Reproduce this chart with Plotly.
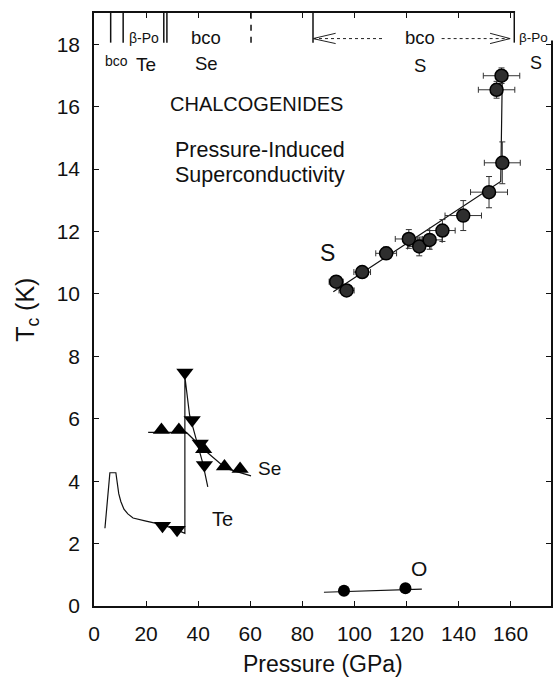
import plotly.graph_objects as go

# ---- Sulfur (S): Tc vs pressure with error bars ----
s_pressure = [93.0, 97.0, 103.0, 112.2, 120.9, 124.9, 128.9, 133.8, 141.8, 151.7, 156.8, 154.6, 156.5]
s_tc = [10.39, 10.11, 10.70, 11.30, 11.76, 11.52, 11.73, 12.03, 12.51, 13.26, 14.20, 16.54, 16.99]
s_perr = [2.7, 2.9, 3.2, 4.0, 5.2, 4.5, 4.8, 4.9, 7.0, 7.1, 6.9, 7.0, 7.0]
s_tcerr = [0.15, 0.15, 0.15, 0.2, 0.3, 0.3, 0.3, 0.35, 0.48, 0.5, 0.67, 0.27, 0.25]
s_guide_p = [91.9, 156.2, 156.8]
s_guide_tc = [10.07, 13.6, 17.0]

# ---- Tellurium (Te) ----
te_pressure = [26.3, 31.9, 34.9, 37.7, 40.8, 42.4]
te_tc = [2.57, 2.44, 7.48, 5.96, 5.21, 4.52]
te_guide_p = [4.2, 6.1, 8.4, 8.9, 9.5, 10.3, 11.5, 13.0, 15.0, 20.0, 26.5, 32.9, 34.9, 34.9, 36.7, 39.3, 41.8, 43.7]
te_guide_tc = [2.49, 4.27, 4.27, 3.9, 3.6, 3.35, 3.1, 2.95, 2.82, 2.72, 2.6, 2.4, 2.33, 7.35, 6.12, 5.32, 4.57, 3.82]

# ---- Selenium (Se) ----
se_pressure = [25.9, 32.6, 42.1, 50.1, 56.1]
se_tc = [5.64, 5.64, 5.02, 4.47, 4.39]
se_guide_p = [20.8, 35.5, 42.4, 50.7, 60.3]
se_guide_tc = [5.56, 5.56, 5.0, 4.41, 4.17]

# ---- Oxygen (O) ----
o_pressure = [96.0, 119.6]
o_tc = [0.49, 0.57]
o_guide_p = [88.3, 125.9]
o_guide_tc = [0.44, 0.54]

# ---- Axes ----
x_ticks = [0, 20, 40, 60, 80, 100, 120, 140, 160]
y_ticks = [0, 2, 4, 6, 8, 10, 12, 14, 16, 18]
x_range = [0, 175.5]
y_range = [0, 19]

# ---- Structural phase boundaries along the top ----
boundary_solid = [6.4, 11.2, 26.8, 28.0, 84.1, 161.4]
boundary_dashed = [60.3]
boundary_bottom = 18.05
phase_labels = [
    ("bco", 8.8, 17.47, 14),
    ("β-Po", 19.1, 18.2, 14),
    ("Te", 19.8, 17.34, 19),
    ("bco", 43.1, 18.2, 18.5),
    ("Se", 43.1, 17.37, 18.5),
    ("bco", 125.3, 18.2, 18.5),
    ("S", 125.3, 17.33, 18.5),
    ("β-Po", 168.6, 18.22, 13.5),
    ("S", 169.8, 17.4, 18),
]

FONT = "Liberation Sans, Arial, Helvetica, sans-serif"
INK = "#111111"

fig = go.Figure()

line_style = dict(color=INK, width=1.2)

fig.add_trace(go.Scatter(x=te_guide_p, y=te_guide_tc, mode="lines", line=line_style, showlegend=False))
fig.add_trace(go.Scatter(x=se_guide_p, y=se_guide_tc, mode="lines", line=line_style, showlegend=False))
fig.add_trace(go.Scatter(x=s_guide_p, y=s_guide_tc, mode="lines", line=line_style, showlegend=False))
fig.add_trace(go.Scatter(x=o_guide_p, y=o_guide_tc, mode="lines", line=line_style, showlegend=False))

fig.add_trace(go.Scatter(
    x=s_pressure, y=s_tc, mode="markers",
    error_x=dict(type="data", array=s_perr, color="#333333", thickness=1, width=3),
    error_y=dict(type="data", array=s_tcerr, color="#333333", thickness=1, width=3),
    marker=dict(symbol="circle", size=13, color="#2e2e2e", line=dict(color="#000000", width=1.5)),
    showlegend=False,
))
fig.add_trace(go.Scatter(
    x=se_pressure, y=se_tc, mode="markers",
    marker=dict(symbol="triangle-up", size=15, color="#000000"),
    showlegend=False,
))
fig.add_trace(go.Scatter(
    x=te_pressure, y=te_tc, mode="markers",
    marker=dict(symbol="triangle-down", size=15, color="#000000"),
    showlegend=False,
))
fig.add_trace(go.Scatter(
    x=o_pressure, y=o_tc, mode="markers",
    marker=dict(symbol="circle", size=12, color="#000000"),
    showlegend=False,
))

shapes = []
# blank out the top-right corner of the frame, where the beta-Po label sits
shapes.append(dict(type="rect", xref="paper", yref="paper", layer="above",
                   x0=(boundary_solid[-1] + 0.3) / x_range[1], x1=1.03,
                   y0=18.12 / y_range[1], y1=1.03,
                   fillcolor="white", line=dict(width=0)))

for xb in boundary_solid:
    shapes.append(dict(type="line", xref="x", yref="y", x0=xb, x1=xb, y0=boundary_bottom, y1=y_range[1],
                       layer="above", line=dict(color=INK, width=1.5)))
for xb in boundary_dashed:
    shapes.append(dict(type="line", xref="x", yref="y", x0=xb, x1=xb, y0=boundary_bottom, y1=y_range[1],
                       layer="above", line=dict(color=INK, width=1.5, dash="6px,6px")))

# bco range arrows for sulfur
arrow_y = 18.18
arrow = dict(color="#222222", width=1)
shapes += [
    dict(type="line", xref="x", yref="y", x0=84.1, x1=111.3, y0=arrow_y, y1=arrow_y, line=dict(color="#222222", width=1, dash="dot")),
    dict(type="line", xref="x", yref="y", x0=84.1, x1=92.8, y0=arrow_y, y1=18.35, line=arrow),
    dict(type="line", xref="x", yref="y", x0=84.1, x1=92.8, y0=arrow_y, y1=18.02, line=arrow),
    dict(type="line", xref="x", yref="y", x0=133.5, x1=159.8, y0=arrow_y, y1=arrow_y, line=dict(color="#222222", width=1, dash="dot")),
    dict(type="line", xref="x", yref="y", x0=159.8, x1=152.1, y0=arrow_y, y1=18.35, line=arrow),
    dict(type="line", xref="x", yref="y", x0=159.8, x1=152.1, y0=arrow_y, y1=18.02, line=arrow),
]

annotations = []
for text, xp, yp, size in phase_labels:
    annotations.append(dict(x=xp, y=yp, xref="x", yref="y", text=text, showarrow=False,
                            font=dict(family=FONT, size=size, color=INK)))

annotations += [
    dict(x=62.3, y=16.1, xref="x", yref="y", text="CHALCOGENIDES", showarrow=False,
         font=dict(family=FONT, size=20, color=INK)),
    dict(x=63.8, y=14.6, xref="x", yref="y", text="Pressure-Induced", showarrow=False,
         font=dict(family=FONT, size=21.5, color=INK)),
    dict(x=63.8, y=13.8, xref="x", yref="y", text="Superconductivity", showarrow=False,
         font=dict(family=FONT, size=21.5, color=INK)),
    dict(x=89.5, y=11.3, xref="x", yref="y", text="S", showarrow=False,
         font=dict(family=FONT, size=23, color=INK)),
    dict(x=67.3, y=4.41, xref="x", yref="y", text="Se", showarrow=False,
         font=dict(family=FONT, size=19, color=INK)),
    dict(x=49.5, y=2.79, xref="x", yref="y", text="Te", showarrow=False,
         font=dict(family=FONT, size=20, color=INK)),
    dict(x=124.7, y=1.19, xref="x", yref="y", text="O", showarrow=False,
         font=dict(family=FONT, size=21, color=INK)),
    # axis titles
    dict(x=0.5, y=-0.097, xref="paper", yref="paper", text="Pressure (GPa)", showarrow=False,
         xanchor="center", yanchor="middle", font=dict(family=FONT, size=23, color=INK)),
    dict(x=-0.148, y=0.5, xref="paper", yref="paper", text="T<sub>c</sub> (K)", showarrow=False,
         textangle=-90, xanchor="center", yanchor="middle", font=dict(family=FONT, size=25, color=INK)),
]

fig.update_layout(
    width=558, height=682,
    margin=dict(l=94, r=5, t=13, b=76),
    paper_bgcolor="white", plot_bgcolor="white",
    font=dict(family=FONT, color=INK),
    shapes=shapes, annotations=annotations,
    showlegend=False,
)
axis_common = dict(
    ticks="inside", ticklen=5, tickwidth=1, tickcolor=INK, mirror="ticks",
    showline=True, linecolor=INK, linewidth=1.5,
    showgrid=False, zeroline=False,
    tickfont=dict(family=FONT, size=21, color=INK), ticklabelstandoff=8,
)
fig.update_xaxes(range=x_range, tickvals=x_ticks, ticktext=[str(v) for v in x_ticks], **axis_common)
fig.update_yaxes(range=y_range, tickvals=y_ticks, ticktext=[str(v) for v in y_ticks], **axis_common)

fig.write_html("out.html")
